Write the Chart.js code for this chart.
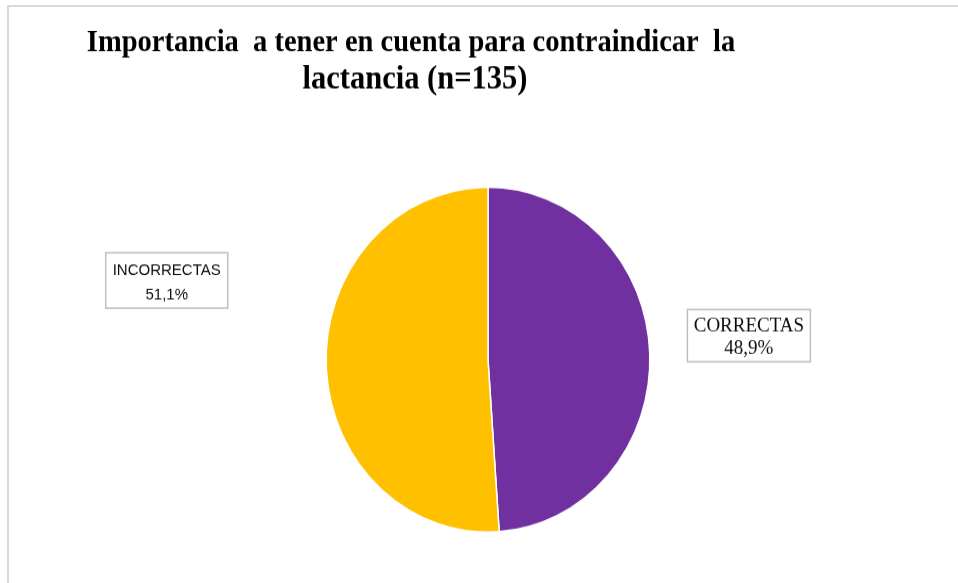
<!DOCTYPE html>
<html>
<head>
<meta charset="utf-8">
<script src="https://cdn.jsdelivr.net/npm/chart.js@4/dist/chart.umd.min.js"></script>
<style>
  html, body { margin: 0; padding: 0; background: #fff; overflow: hidden; }
  #frame { position: absolute; left: 7px; top: 5px; width: 960px; height: 600px;
           border-top: 2px solid #d9d9d9; border-left: 2px solid #d9d9d9; box-sizing: border-box; }
  #wrap { position: absolute; left: 0; top: 0; width: 958px; height: 547px;
          transform: scaleY(1.0658); transform-origin: 0 0; }
</style>
</head>
<body>
<div id="frame"></div>
<div id="wrap"><canvas id="c"></canvas></div>
<script>
const titleLines = ['Importancia  a tener en cuenta para contraindicar  la', 'lactancia (n=135)'];
const categories = ['CORRECTAS', 'INCORRECTAS'];
const values = [48.9, 51.1];
const valueLabels = ['48,9%', '51,1%'];
const colors = ['#7030A0', '#FFC000'];

// label box placement relative to pie centre, in units of radius
const labelStyle = [
  { dx: 1.612, dy: -0.139, w: 123, h: 49, font: '19px "Liberation Serif", "Times New Roman", serif', l1: -3.6, l2: 16.9 },
  { dx: -1.985, dy: -0.459, w: 122, h: 52, font: '15px "Liberation Sans", Arial, sans-serif', l1: -5.5, l2: 17.5 }
];

const overlay = {
  id: 'overlay',
  afterDraw(chart) {
    const ctx = chart.ctx;
    ctx.save();
    // title
    ctx.fillStyle = '#000';
    ctx.textAlign = 'center';
    ctx.textBaseline = 'alphabetic';
    ctx.font = 'bold 28.5px "Liberation Serif", "Times New Roman", serif';
    ctx.fillText(titleLines[0], 411, 48.3);
    ctx.font = 'bold 30.5px "Liberation Serif", "Times New Roman", serif';
    ctx.fillText(titleLines[1], 415, 82.6);
    // labels
    const meta = chart.getDatasetMeta(0);
    meta.data.forEach((arc, i) => {
      const s = labelStyle[i];
      const r = arc.outerRadius;
      const cx = arc.x + s.dx * r;
      const cy = arc.y + s.dy * r;
      ctx.fillStyle = '#fff';
      ctx.fillRect(cx - s.w / 2, cy - s.h / 2, s.w, s.h);
      ctx.strokeStyle = '#bfbfbf';
      ctx.lineWidth = 1.5;
      ctx.strokeRect(cx - s.w / 2, cy - s.h / 2, s.w, s.h);
      ctx.fillStyle = '#0d0d0d';
      ctx.font = s.font;
      ctx.textAlign = 'center';
      ctx.fillText(categories[i], cx, cy + s.l1);
      ctx.fillText(valueLabels[i], cx, cy + s.l2);
    });
    ctx.restore();
  }
};

new Chart(document.getElementById('c'), {
  type: 'pie',
  data: {
    labels: categories,
    datasets: [{
      data: values,
      backgroundColor: colors,
      borderColor: '#ffffff',
      borderWidth: 1.5
    }]
  },
  options: {
    responsive: true,
    maintainAspectRatio: false,
    animation: false,
    layout: { padding: { top: 174.8, bottom: 47, left: 118, right: 100 } },
    plugins: {
      legend: { display: false },
      title: { display: false },
      tooltip: { enabled: false }
    }
  },
  plugins: [overlay]
});
</script>
</body>
</html>
